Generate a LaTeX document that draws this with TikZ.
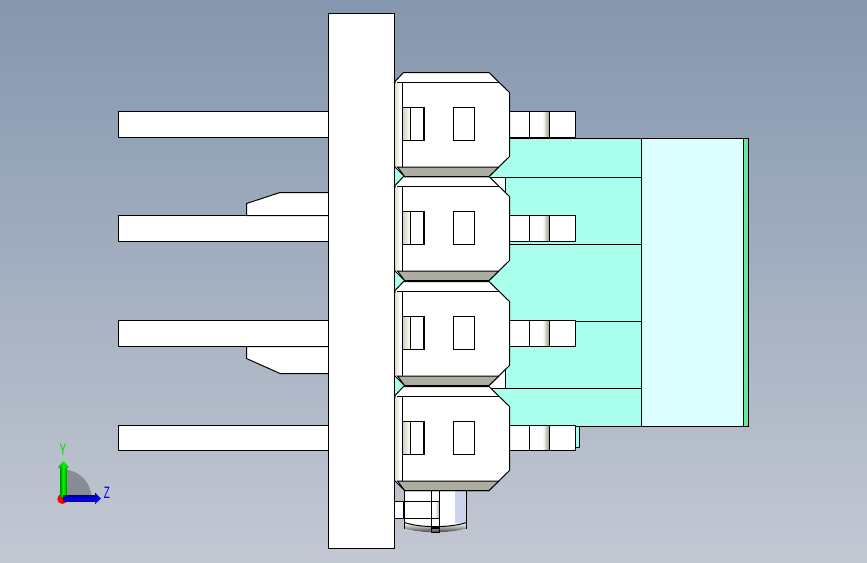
\documentclass[tikz,border=0pt]{standalone}
\usepackage{fontspec}
\setmainfont{Liberation Sans}
\usetikzlibrary{calc}
\definecolor{bgtop}{HTML}{8597AE}
\definecolor{bgbot}{HTML}{C3C8D3}
\definecolor{bodyteal}{HTML}{AAFFEC}
\definecolor{panelcyan}{HTML}{DDFFFF}
\definecolor{stripgreen}{HTML}{66E8A0}
\definecolor{bandgrey}{HTML}{ADADA0}
\definecolor{sliver}{HTML}{D6D4BE}
\definecolor{lavender}{HTML}{CDD5EE}

\begin{document}
\begin{tikzpicture}[x=1pt,y=-1pt,
 part/.style={draw=black,line width=1pt,fill=white,line join=miter},
 edge/.style={draw=black,line width=1pt},
 axlabel/.style={font=\fontsize{16.5}{16.5}\selectfont,inner sep=0pt,xscale=.6,transform shape}]
\useasboundingbox (0,0) rectangle (867,562);
\shade[top color=bgtop,bottom color=bgbot] (0,0) rectangle (867,562);

% pins and tabs
\foreach \py/\ph in {111.5/26,215.5/26,320.5/26,425.5/25}
  \draw[part] (118.5,\py) rectangle (330,\py+\ph);
\draw[part] (330,192.5) -- (280,192.5) -- (246.5,203.5) -- (246.5,215.5) -- (330,215.5);
\draw[part] (330,346.5) -- (246.5,346.5) -- (246.5,358.5) -- (280,373.5) -- (330,373.5);

% back housing
\fill[bodyteal] (395,138.5) rectangle (641.5,426.5);
\fill[white] (489,177.5) -- (505.5,177.5) -- (505.5,195) -- (495,190) -- cycle;
\fill[white] (489,385) -- (505.5,367) -- (505.5,388.5) -- (492,388.5) -- cycle;
\draw[edge,fill=panelcyan] (641.5,138.5) rectangle (743.5,426.5);
\draw[edge,fill=stripgreen] (743.5,138.5) rectangle (748.5,426.5);
\draw[edge] (509,138.5) -- (641.5,138.5);
\draw[edge] (509,426.5) -- (641.5,426.5);
\draw[edge] (489,177.5) -- (641.5,177.5);
\draw[edge] (509,244.5) -- (641.5,244.5);
\draw[edge] (575.5,321.5) -- (641.5,321.5);
\draw[edge] (491,388.5) -- (641.5,388.5);
\draw[edge] (505.5,177.5) -- (505.5,195);
\draw[edge] (505.5,367) -- (505.5,388.5);
\draw[edge,fill=bodyteal] (575.5,426.5) rectangle (579.5,447.5);

% right hand contacts
\foreach \cy/\ch in {111.5/26,215.5/26,320.5/26,425.5/25}{
  \draw[part] (509.5,\cy) rectangle (575.5,\cy+\ch);
  \foreach \sx/\st in {543/12,544/25,545/45,546/65,547/85,548/100}
    \fill[bandgrey!\st!white] (\sx,\cy+.5) rectangle (\sx+1.2,\cy+\ch-.5);
  \draw[edge] (529.5,\cy) -- (529.5,\cy+\ch);
  \draw[edge] (549.5,\cy) -- (549.5,\cy+\ch);
}

% bottom fitting
\draw[part] (394.5,501.5) rectangle (404.5,518.5);
\draw[black,line width=2pt] (403.5,501.5) -- (403.5,518.5);
\fill[white] (404.5,490) -- (466.5,490) -- (466.5,528.5) .. controls (450,533.5) and (420,533.5) .. (404.5,528.5) -- cycle;
\fill[lavender] (454.5,491) rectangle (466,523);
\shade[left color=white,right color=lavender!85!black] (435,502) rectangle (439,518);
\shade[top color=white,bottom color=black!85] (404.5,523) .. controls (420,528) and (450,528) .. (466.5,523) -- (466.5,528.5) .. controls (450,533.5) and (420,533.5) .. (404.5,528.5) -- cycle;
\draw[edge] (404.5,522.5) .. controls (420,528) and (450,528) .. (466.5,522.5);
\draw[edge] (404.5,490) -- (404.5,528.5);
\draw[edge] (466.5,490) -- (466.5,528.5);
\draw[edge] (404.5,501.5) -- (439.5,501.5);
\draw[edge] (404.5,518.5) -- (439.5,518.5);
\draw[edge] (431.5,490) -- (431.5,532.5) -- (439.5,532.5) -- (439.5,490);
\draw[black,line width=2pt] (431.5,527.5) -- (439.5,527.5);

% terminal blocks, lowest first so each band lies over the next
\foreach \dy in {314,209,104,0}{
\begin{scope}[shift={(0,\dy)}]
  \draw[part] (395,81.5) -- (403.5,72.5) -- (489,72.5) -- (509.5,92.5) -- (509.5,156.5) -- (489,176.5) -- (404.5,176.5) -- (395,167) -- cycle;
  \shade[left color=sliver!70!white,right color=white] (395.5,83) rectangle (400,166);
  \draw[edge] (397,82.5) -- (499,82.5);
  \draw[edge] (402.5,82.5) -- (402.5,167);
  \draw[edge,fill=bandgrey] (397.5,167) -- (499,167) -- (489,176.5) -- (404.5,176.5) -- cycle;
  \shade[left color=sliver,right color=white] (403,107.5) rectangle (410,140);
  \draw[edge] (402.5,107.5) rectangle (423.5,140.5);
  \draw[edge] (410.5,107.5) -- (410.5,140.5);
  \draw[black,line width=2pt] (423.5,107) -- (423.5,141);
  \draw[edge] (453.5,107.5) rectangle (474.5,140.5);
\end{scope}
}

% mounting plate
\draw[part] (328.5,13.5) rectangle (394.5,548.5);

% axis triad
\fill[black!30!bgbot] (63,498) -- (63,469.5) arc[start angle=-90,end angle=0,radius=28.5] -- cycle;
\fill[red] (62.3,499) circle[radius=5];
\shade[left color=green!55!black,right color=green!55!black,middle color=green] (60,467) rectangle (66.5,496);
\shade[left color=green!60!black,right color=green!60!black,middle color=green] (63.5,461) -- (69,467.5) -- (58,467.5) -- cycle;
\shade[top color=blue!60!black,bottom color=blue!60!black,middle color=blue] (63,495.7) rectangle (95.5,501.7);
\shade[top color=blue!60!black,bottom color=blue!60!black,middle color=blue] (101,498.5) -- (95,492.7) -- (95,504) -- cycle;
\node[axlabel,text=green!85!black] (ylabel) at (63,450) {Y};
\node[axlabel,text=blue] (zlabel) at (107,492.5) {Z};
\end{tikzpicture}
\end{document}
